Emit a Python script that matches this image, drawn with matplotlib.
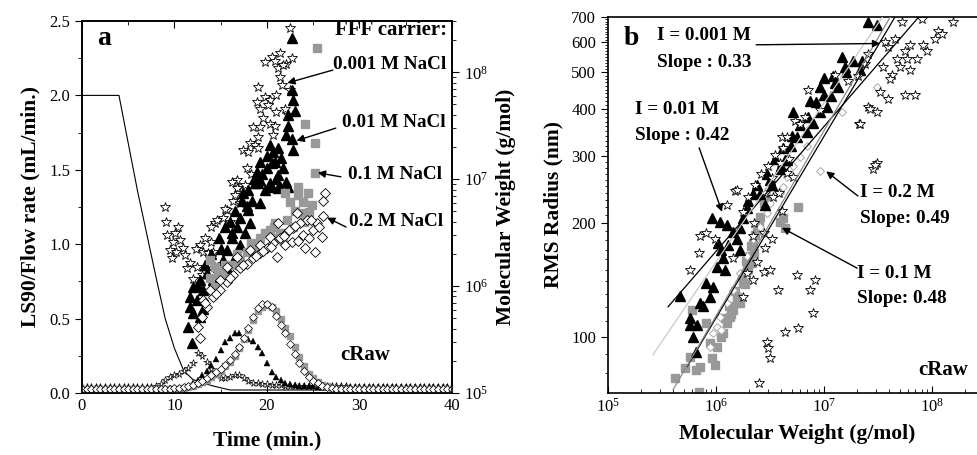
import numpy as np
import matplotlib
matplotlib.use("Agg")
import matplotlib.pyplot as plt
from matplotlib.ticker import FixedLocator, NullFormatter, LogLocator, MultipleLocator

plt.rcParams['font.family'] = ['Liberation Serif', 'DejaVu Serif']
plt.rcParams['mathtext.fontset'] = 'stix'

# ---------------- panel a data ----------------
# flow rate program (mL/min)
flow_t = [0, 4, 6, 8, 9, 10, 11, 12, 14, 16, 40]
flow_v = [2.0, 2.0, 1.36, 0.78, 0.5, 0.3, 0.15, 0.09, 0.05, 0.02, 0.02]

# LS90 raw signals, one value every 0.5 min from 0 to 40
t_raw = np.arange(0, 40.5, 0.5)
raw_001 = [0.04, 0.04, 0.04, 0.04, 0.04, 0.04, 0.04, 0.04, 0.04, 0.04, 0.04, 0.04, 0.04, 0.04, 0.04, 0.04,
           0.045, 0.06, 0.09, 0.11, 0.12, 0.13, 0.15, 0.17, 0.20, 0.27, 0.25, 0.21, 0.16, 0.12, 0.10, 0.10,
           0.11, 0.12, 0.12, 0.10, 0.08, 0.07, 0.065, 0.06, 0.058, 0.056, 0.055, 0.052, 0.05, 0.048, 0.047,
           0.045, 0.045, 0.045, 0.045, 0.045, 0.045, 0.045, 0.045, 0.045, 0.045, 0.045, 0.04, 0.04, 0.04,
           0.04, 0.04, 0.04, 0.04, 0.04, 0.04, 0.04, 0.04, 0.04, 0.04, 0.04, 0.04, 0.04, 0.04, 0.04, 0.04,
           0.04, 0.04, 0.04, 0.04]
raw_01 = [0.035, 0.035, 0.035, 0.035, 0.035, 0.035, 0.035, 0.035, 0.035, 0.035, 0.035, 0.035, 0.035, 0.035,
          0.035, 0.035, 0.035, 0.035, 0.035, 0.035, 0.035, 0.035,
          0.04, 0.05, 0.07, 0.09, 0.12, 0.15, 0.19, 0.23, 0.29, 0.34, 0.37, 0.40, 0.40, 0.37, 0.36, 0.35,
          0.31, 0.27, 0.20, 0.14, 0.11, 0.085, 0.07, 0.06, 0.055, 0.05, 0.05, 0.048, 0.046,
          0.042, 0.042, 0.042, 0.042, 0.042, 0.042, 0.042, 0.042, 0.042, 0.042, 0.038, 0.038, 0.038, 0.038,
          0.038, 0.038, 0.038, 0.038, 0.038, 0.038, 0.038, 0.038, 0.038, 0.038, 0.038, 0.038, 0.038, 0.038,
          0.038, 0.038]
raw_1 = [0.025, 0.025, 0.025, 0.025, 0.025, 0.025, 0.025, 0.025, 0.025, 0.025, 0.025, 0.025, 0.025, 0.025,
         0.025, 0.025, 0.025, 0.025, 0.025, 0.025,
         0.028, 0.03, 0.035, 0.04, 0.05, 0.06, 0.075, 0.09, 0.11, 0.13, 0.15, 0.18, 0.21, 0.25, 0.30, 0.36,
         0.42, 0.49, 0.55, 0.58, 0.59, 0.58, 0.55, 0.50, 0.44, 0.38, 0.31, 0.24, 0.18, 0.13, 0.10, 0.075,
         0.055, 0.045, 0.035,
         0.025, 0.025, 0.025, 0.025, 0.025, 0.025, 0.025, 0.025, 0.025, 0.025, 0.025, 0.025, 0.025, 0.025,
         0.025, 0.025, 0.025, 0.025, 0.025, 0.025, 0.025, 0.025, 0.025, 0.025, 0.025, 0.025]
raw_2 = [0.03, 0.03, 0.03, 0.03, 0.03, 0.03, 0.03, 0.03, 0.03, 0.03, 0.03, 0.03, 0.03, 0.03, 0.03, 0.03,
         0.03, 0.03, 0.03, 0.03,
         0.032, 0.035, 0.04, 0.045, 0.055, 0.065, 0.08, 0.10, 0.12, 0.14, 0.16, 0.19, 0.22, 0.26, 0.31, 0.37,
         0.44, 0.51, 0.57, 0.60, 0.60, 0.58, 0.52, 0.46, 0.40, 0.33, 0.26, 0.20, 0.15, 0.11, 0.08, 0.065,
         0.05, 0.04, 0.035,
         0.03, 0.03, 0.03, 0.03, 0.03, 0.03, 0.03, 0.03, 0.03, 0.03, 0.03, 0.03, 0.03, 0.03, 0.03, 0.03,
         0.03, 0.03, 0.03, 0.03, 0.03, 0.03, 0.03, 0.03, 0.03, 0.03]

# molecular weight vs time (log10 g/mol)
mw_t_001 = [22.5, 20.5, 21.4, 20.9, 19.8, 22.1, 22.7, 21.2, 21.7, 21.4, 19.0, 21.6, 22.5, 18.9, 19.8, 20.3,
            21.0, 19.2, 20.1, 21.0, 21.9, 22.3, 19.6, 20.3, 20.9, 18.5, 19.2, 20.7, 19.0, 18.2, 18.7, 17.4,
            18.0, 19.0, 17.8, 16.8, 16.2, 16.9,
            9.0, 9.1, 9.2, 10.1, 10.4, 9.8, 10.6, 10.9, 9.5, 10.2, 9.7, 11.1, 12.8, 14.0, 13.1, 14.2, 11.4,
            12.4, 13.8, 12.0, 13.0, 14.4, 15.2, 16.0, 15.7, 16.3, 16.8, 17.1, 13.6, 11.7,
            13.3, 13.9, 14.6, 15.5, 16.6, 17.6, 18.3, 12.3]
mw_lg_001 = [8.41, 8.14, 8.18, 8.11, 8.10, 8.08, 8.13, 8.04, 8.07, 7.96, 7.86, 7.88, 7.83, 7.72, 7.77, 7.74,
             7.79, 7.66, 7.69, 7.63, 7.66, 7.60, 7.57, 7.52, 7.50, 7.49, 7.49, 7.41, 7.39, 7.34, 7.32, 7.27,
             7.25, 7.29, 7.10, 6.99, 6.97, 6.92,
             6.74, 6.60, 6.48, 6.50, 6.55, 6.41, 6.43, 6.36, 6.34, 6.32, 6.26, 6.29, 6.38, 6.41, 6.32, 6.32,
             6.17, 6.18, 6.21, 6.07, 6.10, 6.59, 6.64, 6.60, 6.71, 6.80, 6.92, 6.78, 6.31, 6.22,
             6.45, 6.55, 6.62, 6.72, 6.85, 6.95, 7.05, 6.35]
mw_t_01 = [22.7, 22.7, 22.8, 23.0, 22.3, 22.3, 22.1, 22.7, 22.8, 21.2, 20.3, 20.7, 20.0, 19.2, 20.9, 21.7,
           20.0, 18.9, 21.2, 19.2, 22.1, 20.3, 21.4, 18.7,
           19.0, 20.3, 21.2, 22.3, 17.4, 18.4, 19.2, 18.0, 17.1, 18.2, 16.8, 17.6, 16.2, 17.1, 15.7, 16.5,
           15.2, 14.7, 15.7, 13.5, 14.2, 12.8, 12.0, 13.1, 11.7, 12.4, 11.7, 12.0, 11.5, 11.9, 12.8, 13.1,
           14.0, 14.8, 15.5, 16.0, 16.6, 17.3, 18.0, 18.6, 19.5, 20.5, 21.5, 13.3, 12.5, 15.0, 16.2, 17.8,
           19.8, 21.0]
mw_lg_01 = [8.32, 7.83, 7.74, 7.64, 7.60, 7.50, 7.41, 7.38, 7.27, 7.29, 7.32, 7.25, 7.22, 7.16, 7.16, 7.10,
            7.10, 7.07, 7.04, 6.99, 6.97, 6.96, 6.93, 6.96,
            6.96, 6.93, 6.92, 6.93, 6.87, 6.80, 6.78, 6.71, 6.64, 6.59, 6.55, 6.50, 6.45, 6.38, 6.34, 6.27,
            6.24, 6.18, 6.17, 6.12, 6.06, 6.06, 5.99, 5.96, 5.90, 5.87, 5.80, 5.75, 5.62, 5.47, 5.71, 5.79,
            6.30, 6.45, 6.55, 6.60, 6.70, 6.80, 6.90, 7.00, 7.05, 7.15, 7.20, 6.20, 6.00, 6.35, 6.50, 6.75,
            6.90, 7.00]
mw_t_1 = [25.4, 24.1, 25.2, 25.2, 23.4, 21.9, 23.4, 24.4, 22.5, 23.9, 24.9, 24.6, 23.6, 20.9, 20.3, 19.2,
          18.9, 17.8, 17.1, 16.3, 15.1, 13.8, 14.4, 13.8, 14.7, 15.7, 14.4, 21.7, 21.4,
          19.8, 20.8, 22.2, 23.0, 18.3, 16.8, 15.5, 22.8, 24.0, 21.2]
mw_lg_1 = [8.23, 7.52, 7.34, 7.06, 6.93, 6.87, 6.85, 6.87, 6.79, 6.79, 6.76, 6.69, 6.68, 6.59, 6.52, 6.45,
           6.36, 6.32, 6.24, 6.20, 6.15, 6.24, 6.18, 6.08, 6.10, 6.08, 5.99, 6.43, 6.50,
           6.50, 6.55, 6.62, 6.70, 6.40, 6.30, 6.20, 6.55, 6.60, 6.45]
mw_t_2 = [26.3, 26.1, 25.2, 25.9, 24.1, 26.1, 25.4, 24.3, 23.6, 22.8, 22.1, 21.4, 20.7, 20.0, 19.2, 18.5,
          17.8, 17.1, 16.3, 15.7, 14.9, 14.2, 13.5, 13.0, 12.5, 12.8, 23.2, 21.1, 25.0, 22.7, 23.9, 21.2,
          20.3, 19.2, 18.2, 16.8, 15.7, 14.9, 13.8, 13.1,
          19.6, 20.4, 21.8, 22.4, 23.0, 24.8, 18.8, 17.4, 16.0, 14.5, 13.3, 24.6, 25.6, 23.4, 22.0]
mw_lg_2 = [6.87, 6.80, 6.32, 6.46, 6.36, 6.66, 6.59, 6.62, 6.59, 6.54, 6.50, 6.45, 6.40, 6.36, 6.31, 6.26,
           6.21, 6.17, 6.10, 6.04, 5.96, 5.90, 5.80, 5.71, 5.62, 5.51, 6.68, 6.27, 6.52, 6.41, 6.48, 6.59,
           6.46, 6.38, 6.34, 6.27, 6.18, 6.06, 5.96, 5.87,
           6.33, 6.37, 6.47, 6.52, 6.56, 6.62, 6.28, 6.20, 6.08, 5.93, 5.84, 6.45, 6.55, 6.42, 6.38]

# ---------------- panel b data (log10 Mw, log10 Rg) ----------------
b_lm_001 = [5.76, 5.84, 5.85, 5.91, 5.99, 6.18, 6.10, 6.16, 6.25, 6.34, 6.44, 6.52, 6.45, 6.38, 6.44, 6.50,
            6.29, 6.34, 6.57, 6.64, 6.47, 6.48, 6.50, 6.40, 6.53, 6.61, 6.61, 6.19,
            7.72, 7.91, 8.19, 8.06, 8.03, 8.09, 7.92, 7.95, 7.80, 7.75, 7.77, 7.86, 7.68, 7.70, 7.80, 7.63,
            7.61, 7.59, 7.66, 7.56, 7.55, 7.52, 7.59, 7.75, 7.84, 7.41, 7.49, 7.32, 7.49, 7.45, 7.41, 7.38,
            7.31, 7.22, 6.85, 7.10, 6.96, 6.82, 6.73, 6.78, 6.66, 6.62, 6.66, 6.71, 6.59,
            6.75, 6.87, 6.92, 6.90, 6.76, 7.47, 7.33, 7.43,
            6.36, 6.42, 6.48, 6.55, 6.62, 6.45, 6.52, 6.30, 6.68, 6.25, 6.35, 6.58]
b_lr_001 = [2.177, 2.222, 2.265, 2.275, 2.257, 2.384, 2.349, 2.209, 2.106, 2.265, 2.275, 2.257, 2.235, 2.198,
            2.172, 2.177, 2.169, 2.151, 2.124, 2.013, 1.987, 1.971, 1.944, 1.878, 2.368, 2.331, 2.529, 2.389,
            2.833, 2.839, 2.833, 2.807, 2.786, 2.799, 2.772, 2.754, 2.772, 2.754, 2.733, 2.733, 2.733, 2.714,
            2.706, 2.693, 2.680, 2.765, 2.786, 2.778, 2.712, 2.648, 2.627, 2.640, 2.640, 2.606, 2.593, 2.563,
            2.460, 2.442, 2.746, 2.720, 2.688, 2.675, 2.653, 2.693, 2.600, 2.582, 2.569, 2.561, 2.529, 2.495,
            2.434, 2.423, 2.460,
            2.164, 2.124, 2.151, 2.063, 2.024, 2.455, 2.561, 2.601,
            2.40, 2.43, 2.45, 2.48, 2.50, 2.38, 2.42, 2.37, 2.47, 2.33, 2.30, 2.38]
b_lm_01 = [5.67, 5.76, 5.76, 5.82, 5.79, 5.81, 5.85, 5.88, 5.94, 5.91, 5.97, 6.01, 6.08, 6.06, 6.05, 6.02,
           6.11, 5.96, 6.04, 6.10, 6.16, 6.19, 6.22, 6.25, 6.29, 6.34, 6.22,
           7.41, 7.49, 7.17, 7.00, 6.96, 6.87, 6.71, 7.27, 7.35, 7.19, 7.08, 7.06, 7.03, 6.90, 6.84, 6.75,
           6.69, 6.66, 7.13, 7.33, 6.96, 6.50, 6.41, 6.59, 6.45, 6.64,
           6.38, 6.47, 6.55, 6.62, 6.70, 6.78, 6.85, 6.93, 7.00, 7.10, 7.20, 6.30, 6.52, 6.60]
b_lr_01 = [2.107, 2.050, 2.032, 2.032, 2.000, 1.960, 2.090, 2.080, 2.106, 2.143, 2.132, 2.185, 2.177, 2.208,
           2.230, 2.249, 2.243, 2.315, 2.304, 2.296, 2.278, 2.257, 2.288, 2.315, 2.341, 2.376, 2.230,
           2.831, 2.825, 2.738, 2.685, 2.659, 2.622, 2.593, 2.728, 2.728, 2.712, 2.688, 2.635, 2.608, 2.566,
           2.540, 2.529, 2.503, 2.468, 2.661, 2.706, 2.593, 2.415, 2.376, 2.442, 2.349, 2.468,
           2.40, 2.43, 2.47, 2.50, 2.53, 2.56, 2.58, 2.62, 2.64, 2.67, 2.70, 2.36, 2.40, 2.45]
b_lm_1 = [5.62, 5.71, 5.76, 5.81, 5.85, 5.96, 5.99, 5.94, 6.01, 5.91, 5.78, 5.84, 6.06, 6.10, 6.16, 6.19,
          6.25, 6.29, 6.31, 6.34, 6.38, 6.41, 6.44, 6.59, 6.47, 6.22, 6.33, 6.13, 6.64, 6.76, 6.62,
          6.08, 6.12, 6.18, 6.24, 6.28, 6.32, 6.36, 6.40, 6.20, 6.27, 6.30, 6.35, 6.05, 6.14]
b_lr_1 = [1.892, 1.918, 1.947, 1.913, 1.921, 1.944, 1.926, 1.984, 1.974, 2.037, 2.071, 1.855, 2.011, 2.037,
          2.071, 2.106, 2.143, 2.177, 2.212, 2.249, 2.283, 2.317, 2.354, 2.302, 2.368, 2.090, 2.196, 2.053,
          2.288, 2.344, 2.315,
          2.05, 2.08, 2.12, 2.16, 2.20, 2.24, 2.27, 2.30, 2.09, 2.14, 2.18, 2.22, 2.00, 2.06]
b_lm_2 = [5.97, 6.04, 6.10, 6.16, 6.22, 6.29, 6.34, 6.41, 6.47, 6.50, 6.53, 6.96, 7.17, 7.49, 6.84, 6.78,
          6.71, 6.66, 6.62, 6.59, 5.94, 6.01, 6.05]
b_lr_2 = [2.011, 2.053, 2.090, 2.124, 2.169, 2.212, 2.257, 2.291, 2.328, 2.354, 2.381, 2.437, 2.593, 2.661,
          2.503, 2.476, 2.450, 2.423, 2.397, 2.381, 1.974, 2.026, 2.019]

# power-law fits Rg = r0 * (M / m0) ** slope, drawn from m0 to m1
fit_slope = [0.33, 0.42, 0.48, 0.49]
fit_m0 = [3.6e5, 2.6e5, 5.4e5, 4.0e5]
fit_r0 = [120, 89.5, 83.4, 72.4]
fit_m1 = [8.1e7, 3.6e7, 4.6e7, 4.1e7]
fit_color = ['black', '#c8c8c8', 'black', '#8a8a8a']

gray = '#999999'
lab_fs = 13.8
fig = plt.figure(figsize=(9.78, 4.55), dpi=100)

# ================= panel a =================
ax = fig.add_axes([0.0838, 0.1363, 0.3783, 0.8176])
ax2 = ax.twinx()

ax.plot(flow_t, flow_v, color='black', lw=0.8, zorder=2)
ax.plot(t_raw, raw_001, ls='none', marker='*', ms=5.5, mfc='white', mec='black', mew=0.5, zorder=3)
ax.plot(t_raw, raw_01, ls='none', marker='^', ms=4.5, mfc='black', mec='black', mew=0.3, zorder=3)
ax.plot(t_raw, raw_1, ls='none', marker='s', ms=5, mfc=gray, mec=gray, zorder=3)
ax.plot(t_raw, raw_2, ls='none', marker='D', ms=4, mfc='white', mec='black', mew=0.5, zorder=4)

ax2.plot(mw_t_001, 10 ** np.array(mw_lg_001), ls='none', marker='*', ms=7, mfc='white', mec='black', mew=0.6)
ax2.plot(mw_t_01, 10 ** np.array(mw_lg_01), ls='none', marker='^', ms=6.5, mfc='black', mec='black')
ax2.plot(mw_t_1, 10 ** np.array(mw_lg_1), ls='none', marker='s', ms=5.5, mfc=gray, mec=gray)
ax2.plot(mw_t_2, 10 ** np.array(mw_lg_2), ls='none', marker='D', ms=5, mfc='white', mec='black', mew=0.6)

ax.set_xlim(0, 40)
ax.set_ylim(0, 2.5)
ax.xaxis.set_major_locator(MultipleLocator(10))
ax.xaxis.set_minor_locator(MultipleLocator(5))
ax.yaxis.set_major_locator(MultipleLocator(0.5))
ax.yaxis.set_minor_locator(MultipleLocator(0.25))
ax.yaxis.set_major_formatter(plt.FormatStrFormatter('%.1f'))
ax.tick_params(axis='x', which='both', direction='in', top=True, labelsize=12)
ax.tick_params(axis='x', which='major', length=5)
ax.tick_params(axis='x', which='minor', length=3)
ax.tick_params(axis='y', which='major', direction='out', length=5, labelsize=12)
ax.tick_params(axis='y', which='minor', direction='out', length=3)
ax2.set_yscale('log')
ax2.set_ylim(1e5, 10 ** 8.48)
ax2.yaxis.set_major_locator(LogLocator(base=10, numticks=10))
ax2.yaxis.set_minor_locator(LogLocator(base=10, subs=np.arange(2, 10), numticks=20))
ax2.tick_params(axis='y', which='major', direction='out', length=5, labelsize=12)
ax2.tick_params(axis='y', which='minor', direction='out', length=3)
for a in (ax, ax2):
    for s in a.spines.values():
        s.set_linewidth(1.2)

ax.set_xlabel('Time (min.)', fontsize=15.5, fontweight='bold', labelpad=12)
ax.set_ylabel('LS90/Flow rate (mL/min.)', fontsize=15.5, fontweight='bold', labelpad=6)
ax2.set_ylabel('Molecular Weight (g/mol)', fontsize=15.5, fontweight='bold', labelpad=6)

ax.text(0.059, 0.954, 'a', transform=ax.transAxes, fontsize=20, fontweight='bold', ha='center', va='center')
ax.text(0.986, 0.976, 'FFF carrier:', transform=ax.transAxes, fontsize=15, fontweight='bold',
        ha='right', va='center')
ax.text(0.697, 0.102, 'cRaw', transform=ax.transAxes, fontsize=15, fontweight='bold', ha='left', va='center')

a_labels = ['0.001 M NaCl', '0.01 M NaCl', '0.1 M NaCl', '0.2 M NaCl']
a_label_pos = [(0.984, 0.882), (0.984, 0.726), (0.973, 0.586), (0.976, 0.460)]
a_arrow_from = [(0.678, 0.868), (0.686, 0.712), (0.700, 0.581), (0.714, 0.446)]
a_arrow_to = [(22.2, 7.90), (23.2, 7.36), (25.5, 7.06), (26.5, 6.64)]
for lab, pos, p0, p1 in zip(a_labels, a_label_pos, a_arrow_from, a_arrow_to):
    ax2.text(pos[0], pos[1], lab, transform=ax2.transAxes, fontsize=lab_fs, fontweight='bold',
             ha='right', va='center')
    ax2.annotate('', xy=(p1[0], 10 ** p1[1]), xycoords='data', xytext=p0, textcoords='axes fraction',
                 arrowprops=dict(arrowstyle='-|>', color='black', lw=1, mutation_scale=11,
                                 shrinkA=0, shrinkB=0))

# ================= panel b =================
bx = fig.add_axes([0.6217, 0.1363, 0.3865, 0.8264])
bx.set_xscale('log')
bx.set_yscale('log')

for s, m0, r0, m1, c in zip(fit_slope, fit_m0, fit_r0, fit_m1, fit_color):
    mm = np.array([m0, m1])
    bx.plot(mm, r0 * (mm / m0) ** s, color=c, lw=0.9, zorder=5)

bx.plot(10 ** np.array(b_lm_1), 10 ** np.array(b_lr_1), ls='none', marker='s', ms=5.5, mfc=gray, mec=gray)
bx.plot(10 ** np.array(b_lm_2), 10 ** np.array(b_lr_2), ls='none', marker='D', ms=4.5, mfc='white',
        mec='#aaaaaa', mew=0.7)
bx.plot(10 ** np.array(b_lm_01), 10 ** np.array(b_lr_01), ls='none', marker='^', ms=6.5, mfc='black',
        mec='black')
bx.plot(10 ** np.array(b_lm_001), 10 ** np.array(b_lr_001), ls='none', marker='*', ms=7, mfc='white',
        mec='black', mew=0.6)

bx.set_xlim(1e5, 10 ** 8.5)
bx.set_ylim(71, 700)
bx.xaxis.set_major_locator(LogLocator(base=10, numticks=10))
bx.xaxis.set_minor_locator(LogLocator(base=10, subs=np.arange(2, 10), numticks=20))
bx.yaxis.set_major_locator(FixedLocator([100, 200, 300, 400, 500, 600, 700]))
bx.yaxis.set_major_formatter(plt.FixedFormatter(['100', '200', '300', '400', '500', '600', '700']))
bx.yaxis.set_minor_locator(FixedLocator(list(range(80, 700, 10))))
bx.yaxis.set_minor_formatter(NullFormatter())
bx.tick_params(axis='x', which='major', direction='in', length=5, labelsize=12)
bx.tick_params(axis='x', which='minor', direction='in', length=3)
bx.tick_params(axis='y', which='major', direction='out', length=5, labelsize=12)
bx.tick_params(axis='y', which='minor', direction='out', length=2.5)
bx.spines['right'].set_visible(False)
for s in bx.spines.values():
    s.set_linewidth(1.2)

bx.set_xlabel('Molecular Weight (g/mol)', fontsize=15.5, fontweight='bold', labelpad=6)
bx.set_ylabel('RMS Radius (nm)', fontsize=15.5, fontweight='bold', labelpad=6)

bx.text(0.061, 0.944, 'b', transform=bx.transAxes, fontsize=20, fontweight='bold', ha='center', va='center')
bx.text(0.820, 0.061, 'cRaw', transform=bx.transAxes, fontsize=15, fontweight='bold', ha='left', va='center')

b_labels = [('I = 0.001 M', 'Slope : 0.33'), ('I = 0.01 M', 'Slope : 0.42'),
            ('I = 0.2 M', 'Slope: 0.49'), ('I = 0.1 M', 'Slope: 0.48')]
b_label_pos = [(0.130, 0.952, 0.880), (0.071, 0.753, 0.684), (0.667, 0.532, 0.463), (0.659, 0.319, 0.250)]
b_arrow_from = [(0.392, 0.926), (0.241, 0.652), (0.661, 0.524), (0.659, 0.332)]
b_arrow_to = [(7.52, 2.775), (6.056, 2.33), (7.02, 2.437), (6.61, 2.288)]
for (l1, l2), pos, p0, p1 in zip(b_labels, b_label_pos, b_arrow_from, b_arrow_to):
    bx.text(pos[0], pos[1], l1, transform=bx.transAxes, fontsize=lab_fs, fontweight='bold', ha='left', va='center')
    bx.text(pos[0], pos[2], l2, transform=bx.transAxes, fontsize=lab_fs, fontweight='bold', ha='left', va='center')
    bx.annotate('', xy=(10 ** p1[0], 10 ** p1[1]), xycoords='data', xytext=p0, textcoords='axes fraction',
                arrowprops=dict(arrowstyle='-|>', color='black', lw=1, mutation_scale=11,
                                shrinkA=0, shrinkB=0), zorder=6)

fig.savefig('out.png', dpi=100)
